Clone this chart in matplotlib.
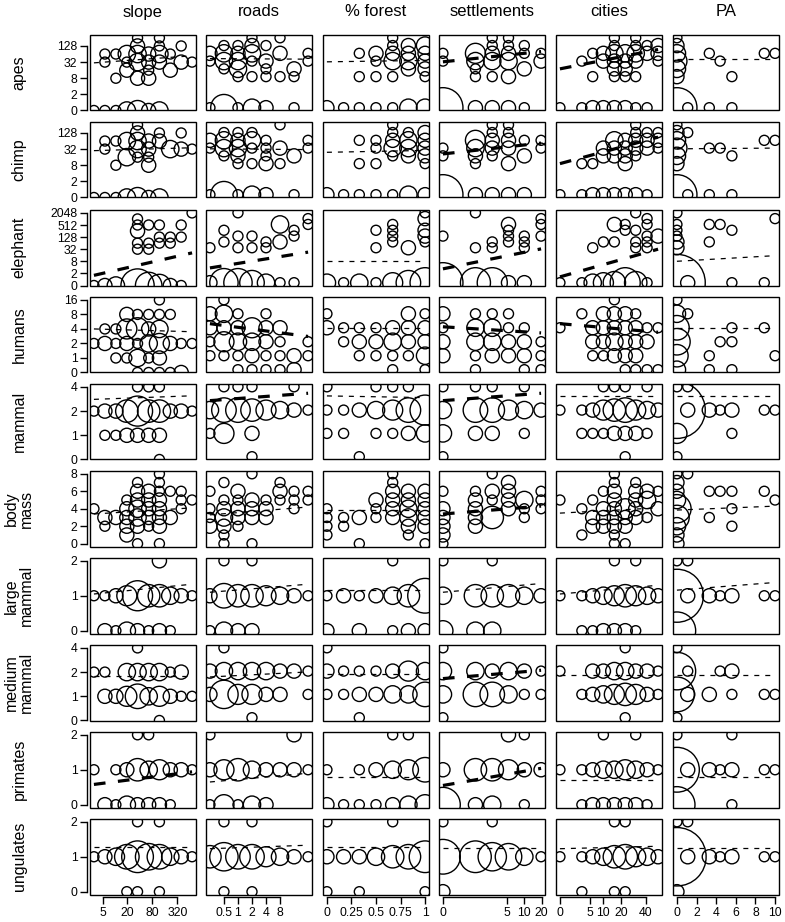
import numpy as np
import matplotlib
matplotlib.use("Agg")
import matplotlib.pyplot as plt
from matplotlib.patches import Rectangle

plt.rcParams["font.family"] = ["Liberation Sans", "DejaVu Sans"]
plt.rcParams["lines.scale_dashes"] = False

# ---- covariates (x bins, natural units) ----
col_keys = ["slope", "roads", "forest", "settle", "cities", "pa"]
col_titles = ["slope", "roads", "% forest", "settlements", "cities", "PA"]
slope_bins = [3.1, 5.7, 10.5, 19.3, 35, 65, 118, 216, 396, 725]
roads_bins = [0.25, 0.5, 1, 2, 4, 8, 16, 32]
forest_bins = [0, 0.17, 0.33, 0.5, 0.67, 0.83, 1]
settle_bins = [0, 1.2, 2.7, 5.4, 10.2, 19.6]
cities_bins = [0, 2.6, 5.8, 10.2, 16, 23, 31, 41, 52]
pa_bins = [0, 1.1, 2.2, 3.3, 4.4, 5.6, 6.7, 7.8, 8.9, 10]

x_ticks = {
    "slope": ([5, 20, 80, 320], ["5", "20", "80", "320"]),
    "roads": ([0.5, 1, 2, 4, 8], ["0.5", "1", "2", "4", "8"]),
    "forest": ([0, 0.25, 0.5, 0.75, 1], ["0", "0.25", "0.5", "0.75", "1"]),
    "settle": ([0, 5, 10, 20], ["0", "5", "10", "20"]),
    "cities": ([0, 5, 10, 20, 40], ["0", "5", "10", "20", "40"]),
    "pa": ([0, 2, 4, 6, 8, 10], ["0", "2", "4", "6", "8", "10"]),
}

# ---- responses ----
row_labels = ["apes", "chimp", "elephant", "humans", "mammal", "body\nmass",
              "large\nmammal", "medium\nmammal", "primates", "ungulates"]
y_ticks = [
    [0, 2, 8, 32, 128], [0, 2, 8, 32, 128], [0, 2, 8, 32, 128, 512, 2048],
    [0, 1, 2, 4, 8, 16], [0, 1, 2, 4], [0, 2, 4, 6, 8], [0, 1, 2],
    [0, 1, 2, 4], [0, 1, 2], [0, 1, 2],
]
linear_rows = ["body\nmass", "large\nmammal", "primates", "ungulates"]

# (x bin index, response, number of sites)
apes = dict(
    slope=[(0,0,1),(1,0,1),(2,0,1),(3,0,3),(4,0,4),(5,0,2),(6,0,3),(2,8,1),(4,8,2),(5,8,2),
           (3,16,2),(5,16,1),(7,16,2),(1,32,1),(3,32,1),(4,32,3),(5,32,2),(6,32,2),(8,32,2),(9,32,1),
           (1,64,1),(2,64,1),(3,64,3),(4,64,3),(5,64,2),(6,64,3),(7,64,1),(4,128,2),(6,128,1),(8,128,1),
           (4,256,1),(6,256,1)],
    roads=[(0,0,1),(1,0,7),(2,0,1),(3,0,3),(4,0,2),(6,0,1),(2,8,1),(3,8,1),(4,8,1),(5,8,1),(6,8,1),
           (1,16,1),(2,16,3),(4,16,1),(6,16,2),(0,32,1),(1,32,3),(2,32,3),(3,32,1),(4,32,2),(7,32,1),
           (0,64,2),(1,64,3),(2,64,2),(3,64,3),(5,64,2),(7,64,1),(1,128,1),(2,128,1),(3,128,2),(4,128,1),
           (3,256,1),(5,256,1)],
    forest=[(0,0,2),(1,0,1),(2,0,1),(2,8,1),(2,64,1),(3,0,1),(3,8,1),(3,64,2),(3,32,1),(4,0,1),(4,8,1),
            (4,32,3),(4,64,2),(4,128,1),(4,256,1),(5,0,3),(5,16,2),(5,32,3),(5,64,2),(5,128,2),(6,0,3),
            (6,8,1),(6,16,2),(6,32,2),(6,64,2),(6,128,3)],
    settle=[(0,0,16),(1,0,2),(2,0,2),(3,0,2),(4,0,1),(1,8,1),(2,8,1),(3,8,2),(1,16,1),(4,16,2),
            (0,32,1),(1,32,3),(2,32,3),(3,32,3),(5,32,2),(0,64,1),(1,64,4),(2,64,2),(3,64,2),(4,64,1),
            (5,64,1),(2,128,1),(3,128,1),(4,128,1),(2,256,1),(3,256,1)],
    cities=[(0,0,1),(1,0,1),(2,0,2),(3,0,2),(4,0,2),(5,0,2),(6,0,1),(7,0,1),(2,8,1),(4,8,1),(5,8,1),
            (6,8,1),(4,16,2),(5,16,2),(1,32,1),(3,32,2),(4,32,2),(5,32,2),(6,32,2),(8,32,1),(2,64,1),
            (3,64,2),(4,64,3),(5,64,3),(6,64,3),(7,64,2),(8,64,2),(4,128,1),(6,128,1),(7,128,1),(8,128,2),
            (4,256,1),(6,256,1)],
    pa=[(0,0,16),(1,0,1),(3,0,1),(5,0,1),(0,256,1),(0,128,2),(0,64,3),(0,32,4),(0,16,3),(0,8,2),
        (3,64,1),(4,32,1),(5,8,1),(8,64,1),(9,64,1)],
)
chimp = dict(
    slope=[(0,0,1),(1,0,1),(2,0,1),(3,0,3),(4,0,4),(5,0,2),(6,0,3),(2,8,1),(5,8,2),(3,16,3),(4,16,1),
           (5,16,1),(1,32,1),(4,32,3),(5,32,2),(7,32,3),(8,32,2),(9,32,1),(1,64,1),(2,64,1),(3,64,3),
           (4,64,3),(5,64,2),(6,64,2),(4,128,2),(6,128,1),(8,128,1),(4,256,1)],
    roads=[(0,0,1),(1,0,7),(2,0,1),(3,0,3),(4,0,2),(6,0,1),(2,8,1),(3,8,1),(4,8,2),(5,8,1),(1,16,1),
           (2,16,2),(4,16,1),(6,16,2),(0,32,1),(1,32,3),(2,32,3),(3,32,1),(4,32,1),(5,32,2),(7,32,1),
           (0,64,2),(1,64,3),(2,64,2),(3,64,3),(4,64,1),(7,64,1),(1,128,1),(2,128,1),(3,128,1),(5,256,1)],
    forest=[(0,0,2),(1,0,1),(2,0,1),(3,0,1),(4,0,1),(5,0,3),(6,0,2),(2,8,1),(3,8,1),(6,8,1),(4,16,1),
            (5,16,2),(6,16,2),(3,32,1),(4,32,3),(5,32,3),(6,32,2),(2,64,1),(3,64,1),(4,64,2),(5,64,3),
            (6,64,2),(4,128,1),(5,128,1),(6,128,2),(4,256,1)],
    settle=[(0,0,16),(1,0,2),(2,0,2),(3,0,2),(4,0,2),(1,8,1),(3,8,2),(0,16,1),(1,16,2),(2,16,1),(4,16,2),
            (0,32,1),(1,32,3),(2,32,2),(3,32,2),(5,32,1),(1,64,4),(2,64,2),(3,64,2),(4,64,1),(5,64,1),
            (2,128,1),(3,128,1),(2,256,1),(3,256,1)],
    cities=[(0,0,1),(1,0,1),(2,0,2),(3,0,2),(4,0,2),(5,0,2),(6,0,2),(7,0,1),(1,8,1),(2,8,1),(5,8,2),
            (3,16,2),(4,16,2),(5,16,2),(6,16,1),(3,32,2),(4,32,2),(5,32,2),(6,32,2),(7,32,2),(8,32,1),
            (4,64,3),(5,64,2),(6,64,2),(7,64,2),(8,64,2),(6,128,1),(7,128,1),(8,128,1),(6,256,1)],
    pa=[(0,0,16),(1,0,1),(3,0,1),(5,0,1),(0,256,1),(0,128,2),(0,64,3),(0,32,4),(0,16,3),(0,8,2),
        (1,128,1),(3,32,1),(4,32,1),(5,16,1),(8,64,1),(9,64,1)],
)
elephant = dict(
    slope=[(0,0,1),(1,0,2),(2,0,3),(4,0,11),(5,0,7),(6,0,5),(7,0,2),(8,0,1),(4,1024,1),(4,512,1),
           (4,256,2),(4,64,1),(4,32,1),(5,512,1),(5,64,1),(5,32,1),(6,512,1),(6,128,1),(6,64,1),
           (7,128,1),(7,64,1),(8,512,1),(8,128,1),(9,2048,1)],
    roads=[(0,0,2),(1,0,8),(2,0,8),(3,0,6),(4,0,3),(5,0,1),(6,0,1),(0,32,1),(2,32,1),(3,32,1),(4,32,1),
           (1,64,1),(4,64,1),(5,64,2),(2,128,1),(3,128,1),(6,128,1),(1,256,1),(6,256,1),(5,512,3),
           (7,512,1),(7,1024,1),(2,2048,1)],
    forest=[(0,0,3),(1,0,1),(2,0,3),(3,0,1),(3,32,1),(3,256,1),(4,0,4),(4,64,1),(4,128,1),(4,256,1),
            (4,512,1),(5,0,6),(5,32,2),(6,0,9),(6,64,1),(6,128,2),(6,256,2),(6,1024,2),(6,2048,1)],
    settle=[(0,0,16),(1,0,9),(2,0,9),(3,0,2),(4,0,2),(0,128,1),(1,2048,1),(1,32,1),(2,64,1),(2,32,1),
            (3,512,2),(3,256,1),(3,128,1),(3,64,1),(4,128,1),(4,64,1),(4,32,1),(5,1024,1),(5,512,1),
            (5,128,1)],
    cities=[(0,0,1),(1,0,1),(2,0,3),(3,0,4),(4,0,5),(5,0,9),(6,0,5),(7,0,1),(2,32,1),(3,64,1),(4,64,1),
            (4,512,2),(5,512,1),(5,256,1),(6,2048,1),(6,256,1),(6,64,1),(6,32,1),(7,1024,1),(7,512,1),
            (7,128,1),(7,64,1),(7,32,1),(8,128,2)],
    pa=[(0,0,32),(1,0,2),(5,0,1),(8,0,1),(0,2048,1),(0,512,1),(0,256,1),(0,128,1),(0,64,2),(0,32,2),
        (3,512,1),(3,64,1),(4,512,1),(5,256,1),(9,1024,1)],
)
humans = dict(
    slope=[(4,0,1),(5,0,1),(6,0,1),(7,0,1),(8,0,2),(2,1,1),(3,1,1),(4,1,3),(5,1,1),(6,1,2),(0,2,1),
           (1,2,2),(2,2,1),(3,2,2),(4,2,1),(5,2,3),(6,2,4),(7,2,2),(8,2,1),(9,2,1),(1,4,1),(2,4,1),
           (3,4,4),(4,4,5),(5,4,2),(6,4,3),(3,8,2),(4,8,1),(5,8,1),(6,8,1),(7,8,1),(6,16,1)],
    roads=[(2,0,1),(3,0,1),(4,0,1),(5,0,1),(6,0,2),(0,1,1),(1,1,1),(2,1,1),(3,1,2),(4,1,1),(5,1,1),
           (6,1,2),(7,1,1),(0,2,1),(1,2,4),(2,2,3),(3,2,3),(4,2,2),(5,2,1),(7,2,1),(0,4,2),(1,4,2),
           (2,4,2),(3,4,4),(4,4,2),(5,4,2),(0,8,2),(1,8,3),(2,8,1),(4,8,1),(1,16,1)],
    forest=[(0,4,2),(1,4,1),(2,4,1),(3,4,1),(4,4,2),(5,4,2),(6,4,2),(1,2,1),(2,2,2),(3,2,2),(4,2,3),
            (5,2,2),(6,2,2),(2,1,1),(3,1,1),(4,1,1),(5,1,1),(6,1,3),(0,8,1),(5,8,2),(6,8,1),(4,0,1),
            (6,0,1)],
    settle=[(0,8,2),(0,4,1),(0,2,2),(0,1,2),(1,8,1),(1,4,3),(1,2,3),(1,1,1),(1,0,1),(2,8,1),(2,4,3),
            (2,2,3),(2,1,2),(3,8,1),(3,4,1),(3,2,2),(3,1,2),(4,4,1),(4,2,2),(4,1,2),(4,0,1),(5,2,1),
            (5,1,1),(5,0,1)],
    cities=[(0,4,1),(1,8,1),(2,4,2),(2,2,2),(2,1,1),(3,8,2),(3,4,2),(3,2,2),(3,1,1),(4,16,1),(4,8,2),
            (4,4,2),(4,2,3),(4,1,2),(5,8,2),(5,4,2),(5,2,2),(5,1,2),(5,0,1),(6,8,1),(6,4,2),(6,2,2),
            (6,1,2),(6,0,1),(7,4,1),(7,2,2),(7,0,1),(8,4,1),(8,0,1)],
    pa=[(0,16,1),(0,8,3),(0,4,6),(0,2,7),(0,1,5),(0,0,3),(1,8,1),(3,1,1),(3,0,1),(4,2,1),(5,4,1),
        (5,2,1),(5,0,1),(8,4,1),(9,1,1)],
)
mammal = dict(
    slope=[(6,0,1),(1,1,1),(2,1,1),(3,1,2),(4,1,2),(5,1,2),(6,1,2),(0,2,1),(1,2,2),(2,2,2),(3,2,5),
           (4,2,9),(5,2,5),(6,2,5),(7,2,2),(8,2,2),(9,2,1),(4,4,1),(5,4,1),(6,4,1)],
    roads=[(3,0,1),(0,1,1),(1,1,4),(3,1,2),(0,2,3),(1,2,6),(2,2,6),(3,2,5),(4,2,4),(5,2,3),(6,2,2),
           (7,2,1),(1,4,1),(2,4,1),(3,4,1),(6,4,1)],
    forest=[(0,4,1),(0,2,1),(0,1,1),(1,2,1),(1,1,1),(2,2,2),(2,0,1),(3,2,3),(3,1,1),(3,4,1),(4,2,4),
            (4,4,1),(4,1,1),(5,2,6),(5,4,1),(5,1,2),(6,2,9),(6,1,3)],
    settle=[(0,4,1),(0,2,3),(0,1,3),(0,0,1),(1,4,1),(1,2,6),(1,1,2),(2,4,1),(2,2,6),(2,1,2),(3,2,4),
            (4,4,1),(4,2,3),(4,1,1),(5,2,2)],
    cities=[(0,2,1),(1,2,1),(1,1,1),(2,2,2),(2,1,1),(3,2,4),(3,1,1),(3,4,1),(4,2,5),(4,1,2),(4,4,1),
            (5,2,6),(5,1,2),(5,4,1),(5,0,1),(6,2,4),(6,1,2),(7,2,3),(7,1,1),(7,4,1),(8,2,2)],
    pa=[(0,2,32),(0,1,4),(0,0,1),(0,4,1),(1,2,2),(1,4,1),(3,2,2),(4,2,1),(5,2,2),(5,1,1),(8,2,1),
        (9,2,1)],
)
body_mass = dict(
    slope=[(0,4,1),(1,3,2),(1,2,1),(2,3,2),(3,1,2),(3,2,2),(3,3,2),(3,4,2),(3,5,1),(4,0,1),(4,2,2),
           (4,3,3),(4,4,3),(4,5,2),(4,6,2),(4,7,1),(5,2,1),(5,3,2),(5,4,2),(5,5,2),(5,6,2),(6,0,1),
           (6,2,2),(6,3,2),(6,4,2),(6,5,2),(6,6,1),(6,7,1),(6,8,1),(7,3,2),(7,6,1),(8,4,1),(8,5,1),
           (8,6,1),(9,5,1)],
    roads=[(0,2,2),(0,3,1),(0,4,1),(0,6,1),(1,0,1),(1,1,1),(1,2,2),(1,3,3),(1,4,2),(1,5,1),(1,7,1),
           (2,2,1),(2,3,2),(2,4,2),(2,5,1),(2,6,2),(3,0,1),(3,3,2),(3,4,2),(3,5,2),(3,8,1),(4,3,2),
           (4,4,2),(4,5,1),(5,5,1),(5,6,2),(5,7,1),(6,4,1),(6,5,1),(6,6,1),(7,5,1),(7,6,1)],
    forest=[(0,4,1),(0,3,1),(0,2,1),(0,1,1),(1,3,1),(1,2,1),(2,3,2),(2,0,1),(3,5,2),(3,4,1),(3,3,1),
            (4,8,1),(4,7,1),(4,6,2),(4,5,2),(4,4,2),(4,3,2),(5,6,2),(5,5,2),(5,4,3),(5,3,3),(5,2,2),
            (5,1,1),(6,6,2),(6,5,2),(6,4,2),(6,3,2),(6,2,2),(6,0,1)],
    settle=[(0,6,1),(0,4,2),(0,3,2),(0,2,2),(0,1,2),(0,0,1),(1,6,1),(1,5,2),(1,4,2),(1,3,2),(1,2,2),
            (2,8,1),(2,6,2),(2,5,1),(2,3,5),(3,7,2),(3,6,2),(3,5,2),(3,4,2),(4,5,3),(4,4,1),(4,3,1),
            (5,6,1),(5,5,1),(5,4,1)],
    cities=[(0,5,1),(1,4,1),(1,1,1),(2,5,1),(2,3,2),(2,2,2),(3,6,1),(3,4,2),(3,3,2),(3,2,2),(4,8,1),
            (4,7,1),(4,6,2),(4,5,2),(4,4,2),(4,3,2),(4,2,2),(4,1,1),(4,0,1),(5,4,4),(5,3,2),(5,2,2),
            (5,0,1),(6,7,1),(6,6,2),(6,5,2),(6,4,2),(6,3,2),(7,6,2),(7,5,3),(7,3,1),(8,6,1),(8,4,2)],
    pa=[(0,8,1),(0,7,2),(0,6,2),(0,5,3),(0,4,8),(0,3,6),(0,2,3),(0,1,2),(0,0,2),(1,8,1),(3,6,1),
        (3,3,1),(4,6,1),(5,6,1),(5,4,1),(5,2,1),(8,6,1),(9,5,1)],
)
large_mammal = dict(
    slope=[(1,0,2),(2,0,1),(3,0,3),(4,0,2),(5,0,1),(6,0,2),(7,0,1),(0,1,1),(1,1,1),(2,1,2),(3,1,4),
           (4,1,9),(5,1,5),(6,1,5),(7,1,3),(8,1,2),(9,1,1),(6,2,2)],
    roads=[(0,0,1),(1,0,3),(2,0,2),(3,0,2),(0,1,2),(1,1,6),(2,1,5),(3,1,5),(4,1,4),(5,1,3),(6,1,2),
           (7,1,1),(1,2,1),(3,2,1)],
    forest=[(0,0,2),(2,0,2),(4,0,1),(5,0,2),(6,0,2),(0,1,1),(1,1,2),(2,1,1),(3,1,2),(4,1,3),(5,1,5),
            (6,1,12),(4,2,1)],
    settle=[(0,1,3),(0,0,4),(0,2,1),(1,1,5),(1,0,3),(2,1,5),(2,0,3),(2,2,1),(3,1,5),(4,1,3),(5,1,2)],
    cities=[(0,1,1),(1,1,1),(1,0,1),(2,1,2),(2,0,1),(3,1,3),(3,0,2),(4,1,4),(4,0,2),(4,2,1),(5,1,5),
            (5,0,2),(6,1,4),(6,0,1),(6,2,1),(7,1,3),(8,1,2)],
    pa=[(0,1,28),(0,0,14),(0,2,1),(1,1,2),(1,2,1),(3,1,2),(4,1,1),(5,1,2),(8,1,1),(9,1,1)],
)
medium_mammal = dict(
    slope=[(6,0,1),(1,1,2),(2,1,2),(3,1,4),(4,1,6),(5,1,3),(6,1,4),(7,1,2),(8,1,1),(9,1,1),(0,2,1),
           (1,2,1),(3,2,3),(4,2,3),(5,2,3),(6,2,3),(7,2,1),(8,2,2),(4,4,1)],
    roads=[(3,0,1),(0,1,2),(1,1,8),(2,1,4),(3,1,4),(4,1,2),(5,1,2),(7,1,1),(0,2,2),(1,2,3),(2,2,3),
           (3,2,3),(4,2,3),(5,2,2),(6,2,2),(7,2,1),(1,4,1)],
    forest=[(0,2,2),(1,2,1),(2,2,1),(3,2,1),(4,2,2),(5,2,4),(6,2,3),(0,1,1),(1,1,1),(2,1,2),(3,1,2),
            (4,1,3),(5,1,3),(6,1,6),(2,0,1),(0,4,1)],
    settle=[(0,2,3),(0,1,3),(0,0,1),(0,4,1),(1,2,3),(1,1,6),(2,2,2),(2,1,6),(3,2,3),(3,1,3),(4,2,2),
            (4,1,1),(5,2,1),(5,1,1)],
    cities=[(0,2,1),(1,1,1),(2,2,2),(2,1,2),(3,2,2),(3,1,3),(4,2,3),(4,1,4),(5,2,3),(5,1,5),(5,4,1),
            (5,0,1),(6,2,2),(6,1,4),(7,2,2),(7,1,2),(8,2,1),(8,1,1)],
    pa=[(0,2,14),(0,1,12),(0,0,1),(0,4,1),(1,2,1),(1,1,2),(3,1,2),(4,2,1),(5,2,2),(5,1,1),(8,1,1),
        (9,1,1)],
)
primates = dict(
    slope=[(1,0,2),(2,0,1),(3,0,3),(4,0,2),(5,0,2),(6,0,2),(7,0,1),(0,1,1),(2,1,1),(3,1,2),(4,1,5),
           (5,1,3),(6,1,4),(7,1,2),(8,1,2),(9,1,1),(4,2,1),(5,2,1)],
    roads=[(0,0,1),(1,0,4),(2,0,1),(3,0,3),(4,0,2),(0,1,2),(1,1,4),(2,1,5),(3,1,3),(4,1,2),(5,1,2),
           (6,1,2),(7,1,1),(0,2,1),(6,2,2)],
    forest=[(0,0,2),(1,0,1),(2,0,1),(3,0,1),(4,0,2),(5,0,3),(6,0,4),(0,1,1),(2,1,1),(3,1,2),(4,1,3),
            (5,1,4),(6,1,6),(4,2,1),(5,2,1)],
    settle=[(0,0,12),(0,1,2),(1,0,2),(1,1,5),(2,0,3),(2,1,5),(3,1,4),(3,2,2),(4,0,1),(4,1,2),(4,2,1),
            (5,1,2)],
    cities=[(0,1,1),(1,1,1),(1,0,1),(2,1,2),(2,0,2),(3,1,3),(3,0,2),(4,1,3),(4,0,2),(5,1,4),(5,0,2),
            (6,1,3),(6,0,2),(7,1,2),(7,0,1),(8,1,1),(3,2,1),(6,2,1)],
    pa=[(0,1,20),(0,0,13),(0,2,1),(1,1,2),(3,1,2),(4,1,1),(5,1,2),(5,0,1),(5,2,1),(8,1,1),(9,1,1)],
)
ungulates = dict(
    slope=[(3,0,1),(4,0,1),(6,0,1),(0,1,1),(1,1,2),(2,1,3),(3,1,6),(4,1,10),(5,1,7),(6,1,6),(7,1,3),
           (8,1,2),(9,1,1),(4,2,1),(6,2,1)],
    roads=[(1,0,1),(3,0,1),(0,1,5),(1,1,8),(2,1,6),(3,1,6),(4,1,4),(5,1,3),(6,1,2),(7,1,1),(1,2,1),
           (3,2,1)],
    forest=[(0,0,1),(2,0,1),(6,0,1),(0,1,2),(1,1,2),(2,1,2),(3,1,3),(4,1,5),(5,1,6),(6,1,10),(0,2,1),
            (4,2,1)],
    settle=[(0,1,12),(0,0,2),(0,2,1),(1,1,10),(2,1,8),(2,2,1),(3,1,7),(4,1,3),(5,1,1)],
    cities=[(0,1,1),(1,1,1),(1,0,1),(2,1,2),(3,1,3),(4,1,5),(4,0,1),(4,2,1),(5,1,6),(5,0,1),(5,2,1),
            (6,1,4),(7,1,3),(8,1,2)],
    pa=[(0,1,34),(0,0,2),(0,2,1),(1,1,2),(1,2,1),(3,1,2),(4,1,1),(5,1,2),(8,1,1),(9,1,1)],
)
row_data = [apes, chimp, elephant, humans, mammal, body_mass, large_mammal,
            medium_mammal, primates, ungulates]

# fitted trend per panel: (value at first bin, value at last bin, significant)
fits = [
    [(30, 55, 0), (40, 38, 0), (30, 34, 0), (30, 75, 1), (16, 90, 1), (40, 40, 0)],
    [(28, 36, 0), (30, 28, 0), (22, 26, 0), (19, 50, 1), (8, 85, 1), (30, 32, 0)],
    [(1.6, 21, 1), (2.9, 19, 1), (7, 7, 0), (2.6, 28, 1), (1.0, 27, 1), (6.4, 12.5, 0)],
    [(4, 3.5, 0), (4.9, 2.6, 1), (4, 4, 0), (4.2, 3.1, 1), (4.9, 3.2, 1), (4, 4, 0)],
    [(2.8, 3.1, 0), (2.65, 3.3, 1), (3.05, 2.9, 0), (2.65, 3.3, 1), (3, 3, 0), (3.05, 3.05, 0)],
    [(3.4, 4.1, 0), (3.3, 4.2, 0), (3.9, 3.9, 0), (3.4, 4.3, 1), (3.5, 4.1, 0), (3.85, 4.3, 0)],
    [(1.05, 1.33, 0), (1.1, 1.33, 0), (1.16, 1.16, 0), (1.1, 1.35, 0), (1.05, 1.3, 0), (1.16, 1.38, 0)],
    [(1.77, 1.77, 0), (1.68, 1.95, 0), (1.82, 1.82, 0), (1.6, 2.05, 1), (1.77, 1.77, 0), (1.77, 1.77, 0)],
    [(0.58, 0.94, 1), (0.65, 0.9, 0), (0.78, 0.78, 0), (0.55, 1.04, 1), (0.72, 0.72, 0), (0.78, 0.78, 0)],
    [(1.28, 1.28, 0), (1.23, 1.33, 0), (1.28, 1.28, 0), (1.26, 1.26, 0), (1.23, 1.3, 0), (1.26, 1.26, 0)],
]

col_bins = dict(slope=slope_bins, roads=roads_bins, forest=forest_bins,
                settle=settle_bins, cities=cities_bins, pa=pa_bins)


# ---- axis transforms ----
def ident(v):
    return np.asarray(v, float)


def log4(v):
    return np.log(np.maximum(np.asarray(v, float), 1e-12)) / np.log(4)


def log2(v):
    return np.log2(np.maximum(np.asarray(v, float), 1e-12))


def log_half(v):
    return np.log(np.maximum(np.asarray(v, float) + 0.5, 1e-12))


def ssqrt(v):
    v = np.asarray(v, float)
    return np.sign(v) * np.sqrt(np.abs(v))


def log2_zero(v):
    v = np.asarray(v, float)
    return np.where(v > 0, np.log2(np.where(v > 0, v, 1.0)), -1.0)


x_funcs = dict(
    slope=(log4, lambda t: np.power(4.0, t)),
    roads=(log2, lambda t: np.power(2.0, t)),
    forest=(ident, ident),
    settle=(log_half, lambda t: np.exp(t) - 0.5),
    cities=(ssqrt, lambda t: np.sign(t) * np.asarray(t) ** 2),
    pa=(ident, ident),
)
y_log = (log2_zero, lambda t: np.power(2.0, t))

# ---- layout (pixels) ----
W, H = 785, 922
col_left = [90, 206, 323, 439, 556, 673]
row_top = [35, 122, 210, 297, 384, 471, 558, 645, 732, 819]
pw, ph = 106, 75.5

fig = plt.figure(figsize=(W / 100, H / 100), dpi=100)

for r, (label, data, fit_row) in enumerate(zip(row_labels, row_data, fits)):
    yf = (ident, ident) if label in linear_rows else y_log
    all_y = [p[1] for pts in data.values() for p in pts]
    t_lo, t_hi = float(yf[0](min(all_y))), float(yf[0](max(all_y)))
    pad = 0.04 * (t_hi - t_lo)
    for c, key in enumerate(col_keys):
        ax = fig.add_axes([col_left[c] / W, 1 - (row_top[r] + ph) / H, pw / W, ph / H])
        xf = x_funcs[key]
        ax.set_xscale("function", functions=xf)
        ax.set_yscale("function", functions=yf)
        bins = col_bins[key]
        bt = xf[0](bins)
        xpad = 0.04 * (bt.max() - bt.min())
        ax.set_xlim(float(xf[1](bt.min() - xpad)), float(xf[1](bt.max() + xpad)))
        ax.set_ylim(float(yf[1](t_lo - pad)), float(yf[1](t_hi + pad)))

        pts = data[key]
        xs = [bins[p[0]] for p in pts]
        ys = [p[1] for p in pts]
        ns = np.array([p[2] for p in pts], float)
        ax.scatter(xs, ys, s=52 * ns, facecolors="none", edgecolors="black",
                   linewidths=1.0, zorder=2)

        y0, y1, sig = fit_row[c]
        if sig:
            ax.plot([bins[0], bins[-1]], [y0, y1], color="black", lw=2.3,
                    dashes=(8.4, 9.0), solid_capstyle="butt", zorder=3)
        else:
            ax.plot([bins[0], bins[-1]], [y0, y1], color="black", lw=0.9,
                    dashes=(3.6, 4.3), zorder=3)

        for s in ["top", "right"]:
            ax.spines[s].set_visible(False)
        ax.add_patch(Rectangle((0, 0), 1, 1, transform=ax.transAxes, fill=False,
                               ec="black", lw=1.0, clip_on=False, zorder=5))
        ax.tick_params(length=5, width=1.0, pad=2, color="black", labelsize=8.8)

        if c == 0:
            ticks = y_ticks[r]
            ax.spines["left"].set_position(("outward", 2))
            ax.spines["left"].set_bounds(ticks[0], ticks[-1])
            ax.spines["left"].set_linewidth(1.0)
            ax.set_yticks(ticks)
            ax.set_yticklabels([str(t) for t in ticks])
        else:
            ax.spines["left"].set_visible(False)
            ax.set_yticks([])

        if r == len(row_labels) - 1:
            tv, tl = x_ticks[key]
            ax.spines["bottom"].set_position(("outward", 2))
            ax.spines["bottom"].set_bounds(tv[0], tv[-1])
            ax.spines["bottom"].set_linewidth(1.0)
            ax.set_xticks(tv)
            ax.set_xticklabels(tl)
        else:
            ax.spines["bottom"].set_visible(False)
            ax.set_xticks([])
        ax.set_xticks([], minor=True)
        ax.set_yticks([], minor=True)

        if r == 0:
            fig.text((col_left[c] + pw / 2) / W, 1 - 12 / H, col_titles[c],
                     ha="center", va="center", fontsize=12)

    fig.text(19 / W, 1 - (row_top[r] + ph / 2) / H, label, rotation=90,
             ha="center", va="center", fontsize=11.5, linespacing=1.0)

fig.savefig("out.png", dpi=100)
